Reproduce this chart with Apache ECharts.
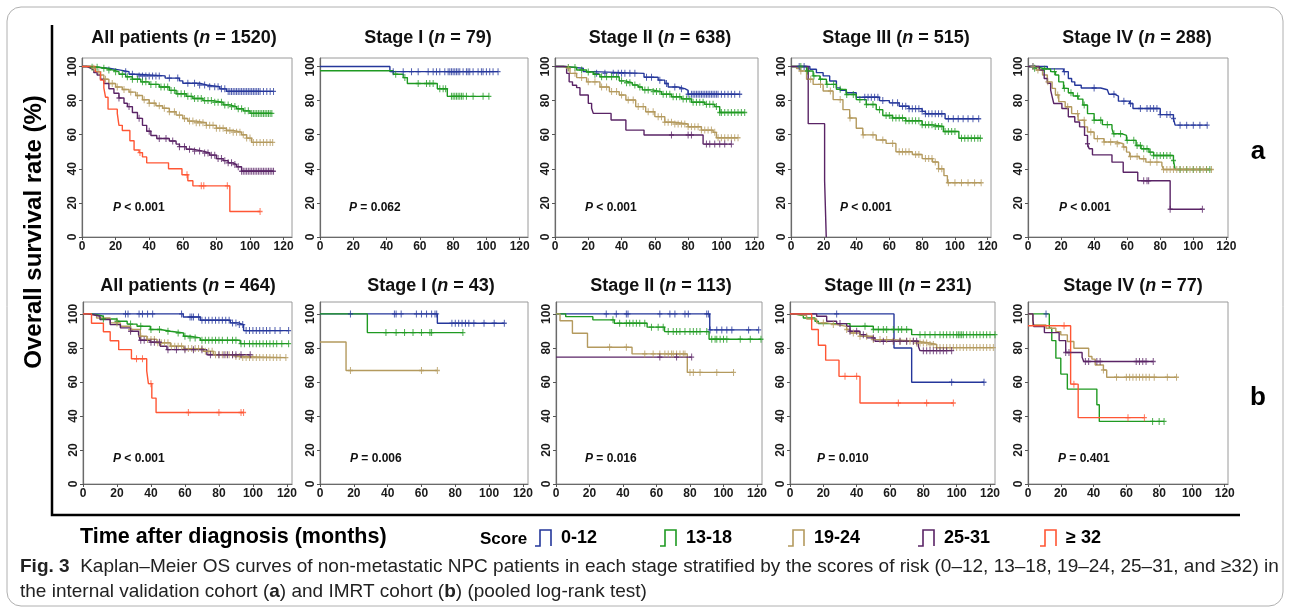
<!DOCTYPE html>
<html>
<head>
<meta charset="utf-8">
<script src="https://cdn.jsdelivr.net/npm/echarts@6/dist/echarts.min.js"></script>
<style>
html,body{margin:0;padding:0;background:#fff;}
#c{width:1290px;height:612px;}
</style>
</head>
<body>
<div id="c"></div>
<script>
// ---------- labels ----------
const GROUPS = ['0-12', '13-18', '19-24', '25-31', '≥ 32'];
const COLORS = ['#25379b', '#1f9a22', '#b49a5e', '#5a2466', '#ff5634'];
const X_TICKS = [0, 20, 40, 60, 80, 100, 120];
const Y_TICKS = [0, 20, 40, 60, 80, 100];
const TITLES_A = [['All patients', '1520'], ['Stage I', '79'], ['Stage II', '638'], ['Stage III', '515'], ['Stage IV', '288']];
const TITLES_B = [['All patients', '464'], ['Stage I', '43'], ['Stage II', '113'], ['Stage III', '231'], ['Stage IV', '77']];
const PVALS_A = ['< 0.001', '= 0.062', '< 0.001', '< 0.001', '< 0.001'];
const PVALS_B = ['< 0.001', '= 0.006', '= 0.016', '= 0.010', '= 0.401'];

// ---------- (a) internal validation cohort ----------
// a1 All patients
const a1_g1 = [[0,100],[4,99.5],[10,99],[16,98],[22,97],[28,95.5],[33,94.5],[49.5,93.2],[58,91.6],[60,90.2],[70,89.2],[74,88.2],[82,86.9],[86,85.4],[114,85.4]];
const a1_g1_c = [26,30,34,36,38,40,42,44,46,52,57,63,67,70,73,76,79,81,83,85,87,88,89,90,91,92,93,94,95,96,97,98,99,100,101,102,103,104,105,106,108,110,112,114];
const a1_g2 = [[0,100],[5,99.6],[10,99],[14,98],[18,97],[22,95.5],[26,94],[30,92.5],[35,91],[40,89.5],[46,88],[52,86],[56,84],[62,82.5],[66,81.2],[72,80],[78,79],[84,77.5],[88,76.5],[92,75.2],[96,74],[100,72.5],[113,72.5]];
const a1_g2_c = [6,9,13,16,20,24,27,30,33,36,38,41,44,47,49,51,53,55,57,59,61,63,65,67,69,71,73,75,77,79,81,83,85,87,89,91,93,95,97,99,101,102,103,104,105,106,107,108,109,110,111,112,113];
const a1_g3 = [[0,100],[5,99],[8,97],[11,95],[13,92.5],[16,90],[20,88],[24,86.5],[28,85],[32,83],[36,80.5],[40,78.5],[44,77],[48,75.5],[52,73.5],[56,71.5],[60,69.5],[63,68],[68,67],[74,65.5],[80,63.8],[86,62.5],[90,61.5],[95,60],[98,58],[101,55.5],[113.5,55.5]];
const a1_g3_c = [7,10,14,18,21,25,29,33,37,40,43,46,49,52,55,58,61,64,66,68,70,72,74,76,78,80,82,84,86,88,90,92,94,96,98,100,102,104,106,108,110,112,113.5];
const a1_g4 = [[0,100],[3,99],[5,98],[7,96.5],[9,95],[11,92.5],[13,90],[16,87],[19,84.3],[22,81.5],[25,78.5],[27,76.5],[30,73],[33,69.6],[36,65.5],[38.5,62],[41,59.5],[44.5,57.8],[52,56.3],[56,54.5],[58,53],[62,51.5],[66,50.4],[72,49.3],[76,48],[80,46],[84,44.8],[87,43.5],[90,42.5],[92,41.2],[95,38.6],[114,38.6]];
const a1_g4_c = [22,28,34,40,46,50,54,58,61,64,67,70,73,75,77,79,81,83,85,87,89,91,93,95,96,97,98,99,100,101,102,103,104,105,106,107,108,109,110,111,112,113,114];
const a1_g5 = [[0,100],[8,97],[11,92],[13,87.5],[14,82],[15.5,75],[21,72.5],[22,65.5],[24,62.5],[28.5,56.5],[31,51],[34,49.5],[36,47],[38.5,43.5],[51.5,40],[59.5,36.5],[63,33],[66,30],[88,15],[106,15]];
const a1_g5_c = [34.5,62.5,71,72.5,86.5,106];
// a2 Stage I
const a2_g1 = [[0,100],[42,97],[107,97]];
const a2_g1_c = [44,50,55,59,65,68,70,72,75,77,78,79,80,81,82,83,84,86,88,89,90,92,95,97,98,100,102,104,107];
const a2_g2 = [[0,97.5],[44,95.5],[50,93.5],[52.5,90],[70.5,87],[76.5,82.5],[101.5,82.5]];
const a2_g2_c = [45.5,51,59,64,66,68,72,74,75.5,79,80,81,82,83,84,85,86,88,92,98,101.5];
// a3 Stage II
const a3_g1 = [[0,100],[5,99.5],[11,99],[17,97],[23,96],[53.5,93.7],[62,92],[66,90],[68,88],[74,87],[78,86],[80,83.7],[111,83.7]];
const a3_g1_c = [25,30,35,38,40,42,45,48,55,58,63,67,72,76,80,82,83,84,85,86,87,88,89,90,91,92,93,94,95,96,97,98,100,102,104,106,108,111];
const a3_g2 = [[0,100],[5,99.5],[13,98],[19,96.8],[23,95.5],[27,94],[38.6,91.6],[42,90.5],[46.5,89.2],[50,88],[52.5,86.3],[58.4,85.3],[64,83.7],[70,82.3],[76,81],[82,79],[90,77.8],[96,76.5],[99,73],[114,73]];
const a3_g2_c = [8,12,16,20,24,28,31,34,37,40,43,45,48,51,54,56,59,61,63,65,67,69,71,73,75,77,79,81,83,85,87,89,91,93,95,97,99,100,102,104,106,108,110,112,114];
const a3_g3 = [[0,100],[5,99],[9,96],[13,93.5],[19,91],[27,88],[32.7,85.3],[38.6,83.3],[42.6,80.4],[48.5,76.5],[54.5,73.5],[60,70.6],[66,67.3],[72,66.3],[80,64.7],[88,62.7],[95,61.4],[97,58.2],[110,58.2]];
const a3_g3_c = [8,12,16,20,24,28,31,34,37,40,44,47,50,53,56,59,62,64,66,68,70,72,74,76,78,80,82,84,86,88,90,92,94,96,98,100,102,104,106,108,110];
const a3_g4 = [[0,100],[7,96],[8.5,91],[10.5,89],[13,87.6],[15,83.3],[20,78.4],[22,75.5],[23,72.5],[33.7,68.6],[42.6,62.7],[53.5,59.8],[89,54.5],[106,54.5]];
const a3_g4_c = [70,80,82,91,93,96,99,102,106];
// a4 Stage III
const a4_g1 = [[0,100],[9.5,100],[11.5,98.4],[15.5,96.4],[19.6,94.5],[23.6,91.5],[27.7,87.5],[30,86],[33.7,84.6],[39.8,82],[54,80],[60,78.7],[66,76.7],[72,75.3],[80,73.7],[82,72.3],[94,69.4],[114.5,69.4]];
const a4_g1_c = [5,8,45,47,49,51,53,56,62,65,68,70,72,74,76,78,80,82,84,86,88,90,92,96,99,102,105,108,111,114.5];
const a4_g2 = [[0,100],[9.5,97.4],[13.5,94.5],[17.6,92.5],[21.6,89.5],[27.7,86.6],[33.7,83.6],[39.8,80.6],[45.9,77.7],[52,74.7],[56,71.3],[62,69.8],[70,68.2],[80,65.8],[86.3,64.8],[93,61.9],[102.4,57.9],[115.5,57.9]];
const a4_g2_c = [6,10,14,18,22,26,30,34,38,42,46,50,54,58,60,62,64,66,68,70,72,74,76,78,80,82,84,86,88,90,92,94,96,98,100,104,106,108,110,112,114,115.5];
const a4_g3 = [[0,100],[1.4,100],[3.4,98.8],[5.5,97.4],[9.5,92.5],[13.5,89.5],[19.6,85.6],[25.7,80.6],[31.7,74.7],[35.8,69.8],[39.8,63.8],[43.8,59.9],[52,56.9],[58,54.9],[64,50],[74,48.4],[80,46],[86.3,44],[90,40],[93.3,36],[95.4,31.8],[116,31.8]];
const a4_g3_c = [6,12,18,24,30,36,44,50,56,62,66,68,70,72,76,78,82,84,86,88,90,92,96,100,104,108,112,116];
const a4_g4 = [[0,100],[10.5,66.5],[20.5,33],[21.5,0]];
const a4_g4_c = [];
// a5 Stage IV
const a5_g1 = [[0,100],[11.7,98.6],[21.5,97],[24.4,93],[26.4,91],[28.3,89],[32.2,87.4],[44,86.4],[48,85.4],[49,83.7],[52.7,82.7],[54.7,79.7],[61.5,78.3],[63.5,75.4],[80,71.8],[88,69.5],[89,65.6],[108.4,65.6]];
const a5_g1_c = [3,22,40,52,58,62,68,72,74,76,78,80,84,86,88,92,96,100,104,108.4];
const a5_g2 = [[0,100],[4,99],[8.8,98.4],[13.7,97],[16.6,95],[18.6,91],[21.5,87.2],[24.4,84.6],[27.3,82.7],[30.3,80.9],[33.2,77.4],[36,72.4],[40,68.5],[45,65.9],[50.8,63.6],[51.7,60.6],[56.6,59.6],[59.6,56.7],[65.4,53.7],[68.4,51.8],[73.2,49.8],[76,47.8],[88,44.9],[89,39.6],[110,39.6]];
const a5_g2_c = [4,10,16,22,26,30,34,40,44,48,52,56,60,64,66,68,70,72,74,76,78,80,82,84,86,88,92,96,100,104,108,110];
const a5_g3 = [[0,100],[5,98],[8.8,95],[11.7,91],[14.6,87.2],[16.6,83.3],[18.6,79.4],[22.5,76.4],[26.4,72.4],[30.3,68.5],[34.2,64.6],[36,61.6],[40,57.7],[46,55.7],[53.7,54.7],[57.6,52.8],[59.6,49.8],[61.5,47.2],[67.4,45.9],[71.3,43.9],[81,42],[82,39.6],[111,39.6]];
const a5_g3_c = [3,6,12,18,24,30,34,38,42,46,50,54,58,62,66,70,74,78,82,84,86,88,90,92,94,96,98,100,102,104,106,108,111];
const a5_g4 = [[0,100],[6.8,98],[9.8,93],[11.7,90.2],[13.7,86.2],[14.6,82.3],[15.6,78.3],[20.5,75.4],[24.4,70.5],[28.3,67.5],[31.2,64.6],[34.2,59.6],[36,54.7],[37,51.8],[39,48.2],[50.8,43.9],[57.6,38],[66.4,33],[86,16.3],[105.5,16.3]];
const a5_g4_c = [36,70,72,73,86,105.5];

// ---------- (b) IMRT cohort ----------
// b1 All patients
const b1_g1 = [[0,100],[59,98.2],[69,96.3],[86.7,94.7],[91.6,93.7],[94.5,90.2],[121,90.2]];
const b1_g1_c = [25,26.5,33,35,38,41,58,63,64,65,68,70,72,74,76,78,80,82,84,86,88,90,92,94,96,98,100,102,104,106,108,110,113,116,121];
const b1_g2 = [[0,100],[4.3,99.5],[8.2,98.6],[12,97],[20,95.7],[26,94],[31.8,92.7],[39.6,90.8],[45.5,89.8],[51.4,88.8],[59.2,86.9],[63,85.9],[69,84.5],[92.5,82.5],[121,82.5]];
const b1_g2_c = [12,20,28,34,40,45,50,56,60,63,66,70,72,74,76,78,80,82,85,88,90,93,95,98,100,102,104,106,108,110,112,114,117,121];
const b1_g3 = [[0,100],[4,99],[8,97.6],[16,94.7],[22,92.7],[28,90.8],[33.7,86.9],[37.6,85],[43.5,83],[51.4,81],[59.2,79.6],[71,78],[76.9,76],[88.6,75],[92.5,74.3],[119.4,74.3]];
const b1_g3_c = [20,28,34,38,40,42,44,46,48,50,52,54,56,58,60,62,64,66,68,70,72,74,76,78,80,82,84,86,88,90,92,94,96,98,100,102,104,106,108,110,112,114,116,119.4];
const b1_g4 = [[0,100],[2.4,99.5],[6.3,98.6],[10,96.7],[16,93.7],[22,91.8],[28,89.8],[32.7,87.8],[33.7,84.5],[39.6,83.3],[45.5,81],[49.4,79],[72.9,76],[98.4,76]];
const b1_g4_c = [28,34,36,40,42,45,50,55,60,65,70,75,80,83,85,88,90,93,98.4];
const b1_g5 = [[0,100],[5,94.5],[12,89.5],[16,84.2],[21,79],[28.5,73.6],[37.5,66.5],[38.5,59],[40.5,50.5],[43,42],[94.5,42]];
const b1_g5_c = [31.5,35,40,62,80,93,94.5];
// b2 Stage I
const b2_g1 = [[0,100],[69.4,94.5],[109,94.5]];
const b2_g1_c = [18,44,45,48,57,60,63,66,68,69,78,80,82,84,86,88,91,97,103,109];
const b2_g2 = [[0,100],[28,89],[84.5,89]];
const b2_g2_c = [39,45,50,55,60,65,66,84.5];
const b2_g3 = [[0,83.5],[15.4,66.7],[69.4,66.7]];
const b2_g3_c = [18,60,69.4];
// b3 Stage II
const b3_g1 = [[0,100],[91.8,90.6],[121,90.6]];
const b3_g1_c = [30,36,42,43,62,68,71,77,79,90,91,92,96,99,102,105,115,121];
const b3_g2 = [[0,100],[5.8,98.4],[22,96.5],[34.8,94.5],[54.4,92.2],[64.8,89.6],[91.4,85.1],[122.4,85.1]];
const b3_g2_c = [34,38,42,44,46,48,50,53,57,61,64,67,70,72,74,77,80,82,84,86,90,93,95,96,98,100,102,110,116,122.4];
const b3_g3 = [[0,100],[2.4,96],[9.8,88.6],[18.8,80.4],[45.4,76.5],[78.4,65.6],[106,65.6]];
const b3_g3_c = [32,42,53,58,62,65,67,69,70,72,74,76,77,80,82,86,96,106];
const b3_g4 = [[0,74.6],[81,74.6]];
const b3_g4_c = [62,72,81];
// b4 Stage III
const b4_g1 = [[0,100],[62.4,80],[73,59.8],[116.4,59.8]];
const b4_g1_c = [28,97,116.4];
const b4_g2 = [[0,100],[2,99],[8,97.6],[15,95.7],[17,94.3],[36,92.7],[50,90.8],[73,87.8],[123,87.8]];
const b4_g2_c = [45,50,53,56,58,62,65,67,70,78,81,84,87,90,92,94,96,98,100,101,102,103,104,106,108,110,112,114,116,118,120,123];
const b4_g3 = [[0,100],[2,99],[10,97],[16,94.7],[22,93.7],[28,92.7],[34,90.8],[36,88.8],[42,86.9],[50,84.9],[62,83.9],[76,82.9],[84,82],[88,80.2],[122,80.2]];
const b4_g3_c = [20,26,34,38,42,46,50,54,58,62,66,70,72,74,76,78,80,82,84,86,88,90,92,94,96,98,100,102,104,106,108,110,112,114,116,118,120,122];
const b4_g4 = [[0,100],[14,100],[16,98.6],[22,95.7],[28,94.3],[34,92.7],[36,89.8],[42,87.8],[46,85.9],[51,83.9],[77,81],[78,78.4],[97,78.4]];
const b4_g4_c = [30,36,40,44,50,56,62,66,70,74,76,80,82,84,86,88,90,92,94,97];
const b4_g5 = [[0,100],[13,90.8],[17,81.6],[21.4,72.8],[29.4,63.3],[42,47.6],[98,47.6]];
const b4_g5_c = [33,40,65,82,98];
// b5 Stage IV
const b5_g1 = [[11,100]];
const b5_g1_c = [11];
const b5_g2 = [[0,100],[13,91.6],[14.5,84.3],[17,74],[20,64.6],[24,55.8],[42,46.6],[43.5,36.8],[83,36.8]];
const b5_g2_c = [76,80,83];
const b5_g3 = [[0,100],[3,93.5],[11,91.6],[17,89.6],[20,87.7],[24,83.8],[28,79.8],[37,75],[39,73.4],[41,70],[46,67],[48,62.8],[90.6,62.8]];
const b5_g3_c = [46,54,60,62,64,66,68,70,72,74,77,85,90.6];
const b5_g4 = [[0,100],[3,96.5],[3.5,92.6],[10,89],[19,84.3],[23,77.3],[33,74.5],[34,72],[76.4,72]];
const b5_g4_c = [23,25,35,37,42,44,66,68,70,72,76.4];
const b5_g5 = [[0,93],[26,58.7],[30.6,39],[71,39]];
const b5_g5_c = [22,28,61,71];

// ---------- assembly ----------
const PANELS = [
  {curves:[a1_g1,a1_g2,a1_g3,a1_g4,a1_g5], cens:[a1_g1_c,a1_g2_c,a1_g3_c,a1_g4_c,a1_g5_c]},
  {curves:[a2_g1,a2_g2], cens:[a2_g1_c,a2_g2_c]},
  {curves:[a3_g1,a3_g2,a3_g3,a3_g4], cens:[a3_g1_c,a3_g2_c,a3_g3_c,a3_g4_c]},
  {curves:[a4_g1,a4_g2,a4_g3,a4_g4], cens:[a4_g1_c,a4_g2_c,a4_g3_c,a4_g4_c]},
  {curves:[a5_g1,a5_g2,a5_g3,a5_g4], cens:[a5_g1_c,a5_g2_c,a5_g3_c,a5_g4_c]},
  {curves:[b1_g1,b1_g2,b1_g3,b1_g4,b1_g5], cens:[b1_g1_c,b1_g2_c,b1_g3_c,b1_g4_c,b1_g5_c]},
  {curves:[b2_g1,b2_g2,b2_g3], cens:[b2_g1_c,b2_g2_c,b2_g3_c]},
  {curves:[b3_g1,b3_g2,b3_g3,b3_g4], cens:[b3_g1_c,b3_g2_c,b3_g3_c,b3_g4_c]},
  {curves:[b4_g1,b4_g2,b4_g3,b4_g4,b4_g5], cens:[b4_g1_c,b4_g2_c,b4_g3_c,b4_g4_c,b4_g5_c]},
  {curves:[b5_g1,b5_g2,b5_g3,b5_g4,b5_g5], cens:[b5_g1_c,b5_g2_c,b5_g3_c,b5_g4_c,b5_g5_c]}
];

const LAYOUT = [
  {left:82, top:58, width:210, height:179, xmax:125, ymax:105, tx:184, ty:38, px:113, py:208},
  {left:320, top:58, width:208, height:179, xmax:125, ymax:105, tx:428, ty:38, px:349, py:208},
  {left:555, top:58, width:203, height:179, xmax:122, ymax:105, tx:660, ty:38, px:585, py:208},
  {left:791, top:58, width:200, height:179, xmax:122, ymax:105, tx:896, ty:38, px:840, py:208},
  {left:1028, top:58, width:200, height:179, xmax:121, ymax:105, tx:1137, ty:38, px:1059, py:208},
  {left:83, top:302, width:209, height:182, xmax:123, ymax:107, tx:188, ty:286, px:113, py:459},
  {left:320, top:302, width:208, height:182, xmax:123, ymax:107, tx:431, ty:286, px:350, py:459},
  {left:556, top:302, width:206, height:182, xmax:123, ymax:107, tx:661, ty:286, px:585, py:459},
  {left:790, top:302, width:205, height:182, xmax:123, ymax:107, tx:898, ty:286, px:817, py:459},
  {left:1028, top:302, width:200, height:182, xmax:122, ymax:107, tx:1133, ty:286, px:1058, py:459}
];

const FONT = '"Liberation Sans", Arial, sans-serif';
const PLUS = 'path://M2,0H3V2H5V3H3V5H2V3H0V2H2Z';

function stepAt(curve, t) {
  let v = curve.length ? curve[0][1] : 100;
  for (const p of curve) { if (p[0] <= t) v = p[1]; else break; }
  return v;
}

const grid = [], xAxis = [], yAxis = [], series = [], graphic = [];
LAYOUT.forEach((L, i) => {
  grid.push({left:L.left, top:L.top, width:L.width, height:L.height, show:true, borderColor:'#9a9a9a', borderWidth:1, backgroundColor:'transparent'});
  xAxis.push({type:'value', gridIndex:i, min:0, max:L.xmax, interval:20,
    axisLine:{show:true, onZero:false, lineStyle:{color:'#6a6a6a', width:1.2}},
    axisTick:{show:true, length:3, lineStyle:{color:'#555'}, customValues:X_TICKS},
    axisLabel:{margin:4, color:'#1a1a1a', fontWeight:'bold', fontSize:12, fontFamily:FONT, customValues:X_TICKS},
    splitLine:{show:false}});
  yAxis.push({type:'value', gridIndex:i, min:0, max:L.ymax, interval:20,
    axisLine:{show:true, onZero:false, lineStyle:{color:'#6a6a6a', width:1.2}},
    axisTick:{show:true, length:3, lineStyle:{color:'#555'}, customValues:Y_TICKS},
    axisLabel:{margin:3, rotate:90, color:'#1a1a1a', fontWeight:'bold', fontSize:12, fontFamily:FONT, customValues:Y_TICKS},
    splitLine:{show:false}});
  const P = PANELS[i];
  P.curves.forEach((c, g) => {
    series.push({type:'line', xAxisIndex:i, yAxisIndex:i, data:c, step:'end', showSymbol:false, silent:true,
      lineStyle:{color:COLORS[g], width:1.4}, z:2});
  });
  P.cens.forEach((ts, g) => {
    if (!ts.length) return;
    series.push({type:'scatter', xAxisIndex:i, yAxisIndex:i, silent:true, z:3,
      data: ts.map(t => [t, stepAt(P.curves[g], t)]),
      symbol:PLUS, symbolSize:[5,7], itemStyle:{color:COLORS[g]}});
  });
  const T = i < 5 ? TITLES_A[i] : TITLES_B[i-5];
  graphic.push({type:'text', x:L.tx, y:L.ty, style:{
    text:'{b|' + T[0] + ' (}{i|n}{b| = ' + T[1] + ')}', align:'center', verticalAlign:'middle',
    rich:{b:{fontSize:18, fontWeight:'bold', fontFamily:FONT, fill:'#111'}, i:{fontSize:18, fontWeight:'bold', fontStyle:'italic', fontFamily:FONT, fill:'#111'}}}});
  const pv = i < 5 ? PVALS_A[i] : PVALS_B[i-5];
  graphic.push({type:'text', x:L.px, y:L.py, style:{
    text:'{i|P}{b| ' + pv + '}', align:'left', verticalAlign:'middle',
    rich:{b:{fontSize:12, fontWeight:'bold', fontFamily:FONT, fill:'#111'}, i:{fontSize:12, fontWeight:'bold', fontStyle:'italic', fontFamily:FONT, fill:'#111'}}}});
});

// outer frame, axes titles, legend, caption
graphic.push({type:'rect', shape:{x:7, y:7, width:1276, height:599, r:14}, style:{fill:'none', stroke:'#b0b0b0', lineWidth:1}, z:-1});
graphic.push({type:'polyline', shape:{points:[[52,25],[52,515],[1240,515]]}, style:{stroke:'#000', lineWidth:2.5, fill:'none'}});
graphic.push({type:'text', x:34, y:232, rotation:Math.PI/2, style:{text:'Overall survival rate (%)', align:'center', verticalAlign:'middle', font:'bold 24px ' + FONT, fill:'#000'}});
graphic.push({type:'text', x:80, y:537, style:{text:'Time after diagnosis (months)', align:'left', verticalAlign:'middle', font:'bold 21.5px ' + FONT, fill:'#000'}});
graphic.push({type:'text', x:480, y:539, style:{text:'Score', align:'left', verticalAlign:'middle', font:'bold 17px ' + FONT, fill:'#000'}});
const LEG_X = [535, 660, 788, 918, 1040];
GROUPS.forEach((g, k) => {
  const x = LEG_X[k];
  graphic.push({type:'polyline', shape:{points:[[x, 546],[x+5, 546],[x+5, 530],[x+16, 530],[x+16, 546]]}, style:{stroke:COLORS[k], lineWidth:1.6, fill:'none'}});
  graphic.push({type:'text', x:x+26, y:538, style:{text:g, align:'left', verticalAlign:'middle', font:'bold 18px ' + FONT, fill:'#000'}});
});
graphic.push({type:'text', x:1258, y:152, style:{text:'a', align:'center', verticalAlign:'middle', font:'bold 26px ' + FONT, fill:'#000'}});
graphic.push({type:'text', x:1258, y:398, style:{text:'b', align:'center', verticalAlign:'middle', font:'bold 26px ' + FONT, fill:'#000'}});
const CAP_RICH = {n:{fontSize:19, fontFamily:FONT, fill:'#222'}, b:{fontSize:19, fontWeight:'bold', fontFamily:FONT, fill:'#222'}};
graphic.push({type:'text', x:20, y:567, style:{text:'{b|Fig. 3}{n|  Kaplan–Meier OS curves of non-metastatic NPC patients in each stage stratified by the scores of risk (0–12, 13–18, 19–24, 25–31, and ≥32) in}', align:'left', verticalAlign:'middle', rich:CAP_RICH}});
graphic.push({type:'text', x:20, y:592, style:{text:'{n|the internal validation cohort (}{b|a}{n|) and IMRT cohort (}{b|b}{n|) (pooled log-rank test)}', align:'left', verticalAlign:'middle', rich:CAP_RICH}});

const chart = echarts.init(document.getElementById('c'), null, {renderer:'canvas'});
chart.setOption({animation:false, backgroundColor:'#fff', grid, xAxis, yAxis, series, graphic});
</script>
</body>
</html>
